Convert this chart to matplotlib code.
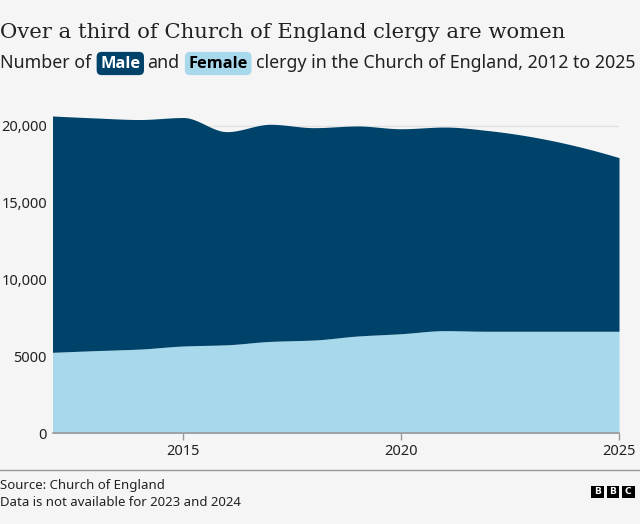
import numpy as np
import matplotlib.pyplot as plt
from matplotlib.lines import Line2D
from matplotlib.patches import Rectangle

years = [2012, 2013, 2014, 2015, 2016, 2017, 2018, 2019, 2020, 2021, 2022, 2025]
female = [5270, 5380, 5480, 5680, 5760, 5980, 6070, 6330, 6480, 6680, 6640, 6640]
male = [15380, 15140, 14940, 14870, 13870, 14130, 13820, 13670, 13340, 13250, 13060, 11300]

yticks = [0, 5000, 10000, 15000, 20000]
ytick_labels = ['0', '5000', '10,000', '15,000', '20,000']
xticks = [2015, 2020, 2025]

MALE_C = '#00436a'
FEMALE_C = '#a8d8ec'
BG = '#f5f5f5'
TXT = '#222222'
SANS = ['Noto Sans', 'DejaVu Sans']
SUB = ['Open Sans', 'DejaVu Sans']


def pchip(x, y, xs):
    # monotone cubic curve through the points, for a smooth edge like the original
    x = np.asarray(x, float)
    y = np.asarray(y, float)
    h = np.diff(x)
    delta = np.diff(y) / h
    n = len(x)
    d = np.zeros(n)
    for k in range(1, n - 1):
        if delta[k - 1] * delta[k] > 0:
            w1 = 2 * h[k] + h[k - 1]
            w2 = h[k] + 2 * h[k - 1]
            d[k] = (w1 + w2) / (w1 / delta[k - 1] + w2 / delta[k])

    def end(h0, h1, d0, d1):
        v = ((2 * h0 + h1) * d0 - h0 * d1) / (h0 + h1)
        if np.sign(v) != np.sign(d0):
            return 0.0
        if np.sign(d0) != np.sign(d1) and abs(v) > abs(3 * d0):
            return 3 * d0
        return v

    d[0] = end(h[0], h[1], delta[0], delta[1])
    d[-1] = end(h[-1], h[-2], delta[-1], delta[-2])
    idx = np.clip(np.searchsorted(x, xs) - 1, 0, n - 2)
    t = (xs - x[idx]) / h[idx]
    h00 = 2 * t**3 - 3 * t**2 + 1
    h10 = t**3 - 2 * t**2 + t
    h01 = -2 * t**3 + 3 * t**2
    h11 = t**3 - t**2
    return h00 * y[idx] + h10 * h[idx] * d[idx] + h01 * y[idx + 1] + h11 * h[idx] * d[idx + 1]


total = np.array(female) + np.array(male)
xs = np.linspace(years[0], years[-1], 600)
f_line = pchip(years, female, xs)
t_line = pchip(years, total, xs)

fig = plt.figure(figsize=(6.4, 5.24), dpi=100, facecolor=BG)
ax = fig.add_axes([52.5 / 640, 1 - 433.3 / 524, (619 - 52.5) / 640, (433.3 - 110.6) / 524])
ax.set_facecolor(BG)

ax.fill_between(xs, 0, f_line, color=FEMALE_C, lw=0, zorder=2)
ax.fill_between(xs, f_line, t_line, color=MALE_C, lw=0, zorder=2)

ax.set_xlim(years[0], years[-1])
ax.set_ylim(0, 21000)
ax.set_yticks(yticks)
ax.set_yticklabels(ytick_labels, family=SANS, fontsize=10.5, color=TXT)
ax.set_xticks(xticks)
ax.set_xticklabels([str(x) for x in xticks], family=SANS, fontsize=10.5, color=TXT)
ax.tick_params(axis='y', length=0, pad=4)
ax.tick_params(axis='x', length=5, width=1, color='#999999', pad=3)
ax.grid(axis='y', color='#e2e2e2', lw=1, zorder=0)
ax.set_axisbelow(True)
for s in ['top', 'right', 'left']:
    ax.spines[s].set_visible(False)
ax.spines['bottom'].set_color('#999999')
ax.spines['bottom'].set_linewidth(1.2)
ax.spines['bottom'].set_zorder(3)

# title
fig.text(0, 1 - 33 / 524, 'Over a third of Church of England clergy are women',
         family='DejaVu Serif', fontsize=15.25, color=TXT, va='center', ha='left')

# subtitle with coloured key words
renderer = fig.canvas.get_renderer()
sub_y = 1 - 63.5 / 524
parts = [('Number of', 'normal', TXT, None, 0, SANS, 12.8),
         ('Male', 'bold', 'white', MALE_C, 9, SUB, 11.8),
         ('and', 'normal', TXT, None, 7, SANS, 12.8),
         ('Female', 'bold', 'black', FEMALE_C, 9, SUB, 11.8),
         ('clergy in the Church of England, 2012 to 2025', 'normal', TXT, None, 8, SANS, 12.8)]
x = 0.0
for txt, wt, col, box, gap, fam, size in parts:
    x += gap / 640
    kw = {}
    if box:
        kw['bbox'] = dict(boxstyle='round,pad=0.22,rounding_size=0.3', fc=box, ec='none')
    t = fig.text(x, sub_y, txt, family=fam, fontsize=size, fontweight=wt,
                 color=col, va='center', ha='left', **kw)
    bb = t.get_window_extent(renderer)
    x = bb.x1 / fig.bbox.width

# footer
fig.add_artist(Line2D([0, 1], [1 - 470 / 524, 1 - 470 / 524], color='#999999', lw=1))
fig.text(0, 1 - 485 / 524, 'Source: Church of England', family=SANS, fontsize=9.5,
         color=TXT, va='center', ha='left')
fig.text(0, 1 - 502 / 524, 'Data is not available for 2023 and 2024', family=SANS,
         fontsize=9.5, color=TXT, va='center', ha='left')

# BBC blocks
for i, letter in enumerate('BBC'):
    x0 = (591 + i * 15.5) / 640
    fig.add_artist(Rectangle((x0, 1 - 498 / 524), 12.5 / 640, 12.5 / 524,
                             transform=fig.transFigure, fc='black', ec='none'))
    fig.text(x0 + 6.25 / 640, 1 - 491.8 / 524, letter, family='DejaVu Sans',
             fontsize=6.5, fontweight='bold', color='white', ha='center', va='center')

fig.savefig('out.png', dpi=100, facecolor=BG)
